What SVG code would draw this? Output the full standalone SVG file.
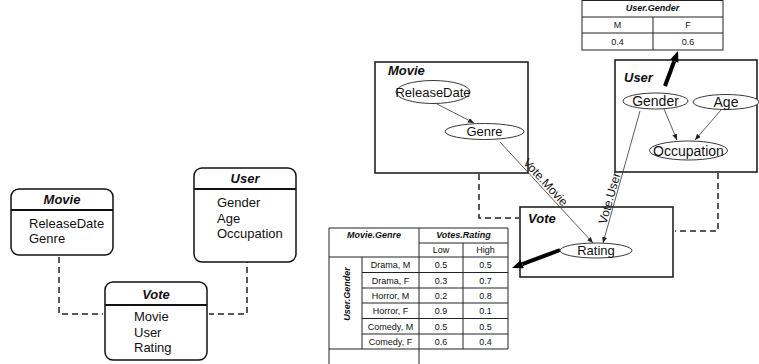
<svg xmlns="http://www.w3.org/2000/svg" width="759" height="364" viewBox="0 0 759 364">
<style>
text{font-family:"Liberation Sans",Arial,sans-serif;fill:#111}
.t{font-size:13px;font-weight:bold;font-style:italic}
.i{font-size:13px}
.c{font-size:9px;text-anchor:middle}
.ch{font-size:9px;font-weight:bold;font-style:italic;text-anchor:middle}
.box{fill:#fff;stroke:#111;stroke-width:1.5}
.hd{stroke:#111;stroke-width:2}
.plate{fill:none;stroke:#222;stroke-width:1.6}
.ell{fill:#fff;stroke:#222;stroke-width:0.9}
.dash{fill:none;stroke:#222;stroke-width:1.5;stroke-dasharray:6 4}
.thin{fill:none;stroke:#333;stroke-width:0.8}
.thick{fill:none;stroke:#000;stroke-width:4}
.tb{fill:none;stroke:#222;stroke-width:1}
.el{font-size:13px;text-anchor:middle}
.el14{font-size:14px;text-anchor:middle}
.lbl{font-size:12px;text-anchor:middle}
</style>
<defs>
<marker id="sa" markerUnits="userSpaceOnUse" markerWidth="7" markerHeight="6" refX="6" refY="2.5" orient="auto"><path d="M0,0 L6,2.5 L0,5 z" fill="#222"/></marker>
<marker id="ta" markerUnits="userSpaceOnUse" markerWidth="12" markerHeight="10" refX="0" refY="4.5" orient="auto"><path d="M0,0 L11,4.5 L0,9 z" fill="#000"/></marker>
</defs>

<!-- Left class diagram -->
<g id="connectors-left">
<path class="dash" d="M59,257 V314 H103"/>
<path class="dash" d="M247,257 V314 H209"/>
</g>
<g id="cls-movie">
<rect class="box" x="11" y="189" width="102" height="66" rx="8"/>
<line class="hd" x1="11" y1="210" x2="113" y2="210"/>
<text class="t" x="62" y="204" text-anchor="middle">Movie</text>
<text class="i" x="29" y="228">ReleaseDate</text>
<text class="i" x="29" y="243">Genre</text>
</g>
<g id="cls-user">
<rect class="box" x="194" y="168" width="102" height="94" rx="8"/>
<line class="hd" x1="194" y1="189" x2="296" y2="189"/>
<text class="t" x="245" y="183" text-anchor="middle">User</text>
<text class="i" x="217" y="207">Gender</text>
<text class="i" x="217" y="223">Age</text>
<text class="i" x="217" y="238">Occupation</text>
</g>
<g id="cls-vote">
<rect class="box" x="105" y="282" width="102" height="78" rx="8"/>
<line class="hd" x1="105" y1="305" x2="207" y2="305"/>
<text class="t" x="156" y="299" text-anchor="middle">Vote</text>
<text class="i" x="134" y="321">Movie</text>
<text class="i" x="134" y="337">User</text>
<text class="i" x="134" y="352">Rating</text>
</g>

<!-- Right model -->
<g id="plate-movie">
<rect class="plate" x="375" y="62" width="153" height="111"/>
<text class="t" x="388" y="75">Movie</text>
</g>
<g id="plate-user">
<rect class="plate" x="615" y="60" width="142" height="112"/>
<text class="t" x="624" y="82">User</text>
</g>
<g id="plate-vote">
<rect class="plate" x="520" y="207" width="153" height="70"/>
<text class="t" x="528" y="223">Vote</text>
</g>

<g id="connectors">
<path class="dash" d="M479,174 V218 H519"/>
<path class="dash" d="M718,173 V231 H675"/>
<line class="thin" x1="437" y1="104" x2="474" y2="123" marker-end="url(#sa)"/>
<line class="thin" x1="664" y1="109" x2="677" y2="140" marker-end="url(#sa)"/>
<line class="thin" x1="721" y1="110" x2="695" y2="140" marker-end="url(#sa)"/>
<line class="thin" x1="500" y1="142" x2="593" y2="243" marker-end="url(#sa)"/>
<line class="thin" x1="640" y1="111" x2="603" y2="243" marker-end="url(#sa)"/>
<line class="thick" x1="560" y1="250" x2="522.3" y2="264.1" marker-end="url(#ta)"/>
<line class="thick" x1="665" y1="86" x2="674.2" y2="61.3" marker-end="url(#ta)"/>
<text class="lbl" transform="translate(542.5,185) rotate(47.4)">Vote.Movie</text>
<text class="lbl" transform="translate(613.5,199.3) rotate(-74.3)">Vote.User</text>
</g>

<g id="node-releasedate">
<ellipse class="ell" cx="433" cy="92" rx="37" ry="11.5"/>
<text class="el" x="433" y="96.5">ReleaseDate</text>
</g>
<g id="node-genre">
<ellipse class="ell" cx="484.5" cy="131.5" rx="39.5" ry="8"/>
<text class="el" x="484.5" y="136">Genre</text>
</g>
<g id="node-gender">
<ellipse class="ell" cx="655.5" cy="101" rx="32.5" ry="8"/>
<text class="el14" x="655.5" y="106">Gender</text>
</g>
<g id="node-age">
<ellipse class="ell" cx="726" cy="102" rx="33" ry="7.5"/>
<text class="el14" x="726" y="107">Age</text>
</g>
<g id="node-occupation">
<ellipse class="ell" cx="688.5" cy="150.5" rx="39" ry="9.5"/>
<text class="el14" x="688.5" y="155.5">Occupation</text>
</g>
<g id="node-rating">
<ellipse class="ell" cx="596" cy="250.5" rx="36" ry="7.5"/>
<text class="el" x="596" y="255">Rating</text>
</g>

<!-- CPT User.Gender -->
<g id="cpt-gender">
<rect class="tb" x="582" y="0.5" width="141" height="49.5" fill="#fff"/>
<line class="tb" x1="582" y1="17" x2="723" y2="17"/>
<line class="tb" x1="582" y1="33" x2="723" y2="33"/>
<line class="tb" x1="653" y1="17" x2="653" y2="50"/>
<text class="ch" x="652.5" y="11">User.Gender</text>
<text class="c" x="617.5" y="28">M</text>
<text class="c" x="688" y="28">F</text>
<text class="c" x="617.5" y="45">0.4</text>
<text class="c" x="688" y="45">0.6</text>
</g>

<!-- CPT Votes.Rating -->
<g id="cpt-rating">
<rect x="329" y="228" width="179" height="136" fill="#fff"/>
<path class="tb" d="M329,228 H508 V349 M329,228 V364 M419,228 V364 M419,243 H508 M329,257 H508 M362,257 V349 M463,243 V349 M362,272.5 H508 M362,288 H508 M362,303 H508 M362,318.5 H508 M362,334 H508 M329,349 H508"/>
<text class="ch" x="374" y="238">Movie.Genre</text>
<text class="ch" x="463.5" y="238">Votes.Rating</text>
<text class="c" x="441" y="253">Low</text>
<text class="c" x="485.5" y="253">High</text>
<text class="ch" transform="translate(349.5,294) rotate(-90)">User.Gender</text>
<text class="c" x="390.5" y="268">Drama, M</text>
<text class="c" x="441" y="268">0.5</text>
<text class="c" x="485.5" y="268">0.5</text>
<text class="c" x="390.5" y="283.5">Drama, F</text>
<text class="c" x="441" y="283.5">0.3</text>
<text class="c" x="485.5" y="283.5">0.7</text>
<text class="c" x="390.5" y="299">Horror, M</text>
<text class="c" x="441" y="299">0.2</text>
<text class="c" x="485.5" y="299">0.8</text>
<text class="c" x="390.5" y="314">Horror, F</text>
<text class="c" x="441" y="314">0.9</text>
<text class="c" x="485.5" y="314">0.1</text>
<text class="c" x="390.5" y="329.5">Comedy, M</text>
<text class="c" x="441" y="329.5">0.5</text>
<text class="c" x="485.5" y="329.5">0.5</text>
<text class="c" x="390.5" y="345">Comedy, F</text>
<text class="c" x="441" y="345">0.6</text>
<text class="c" x="485.5" y="345">0.4</text>
</g>
</svg>
